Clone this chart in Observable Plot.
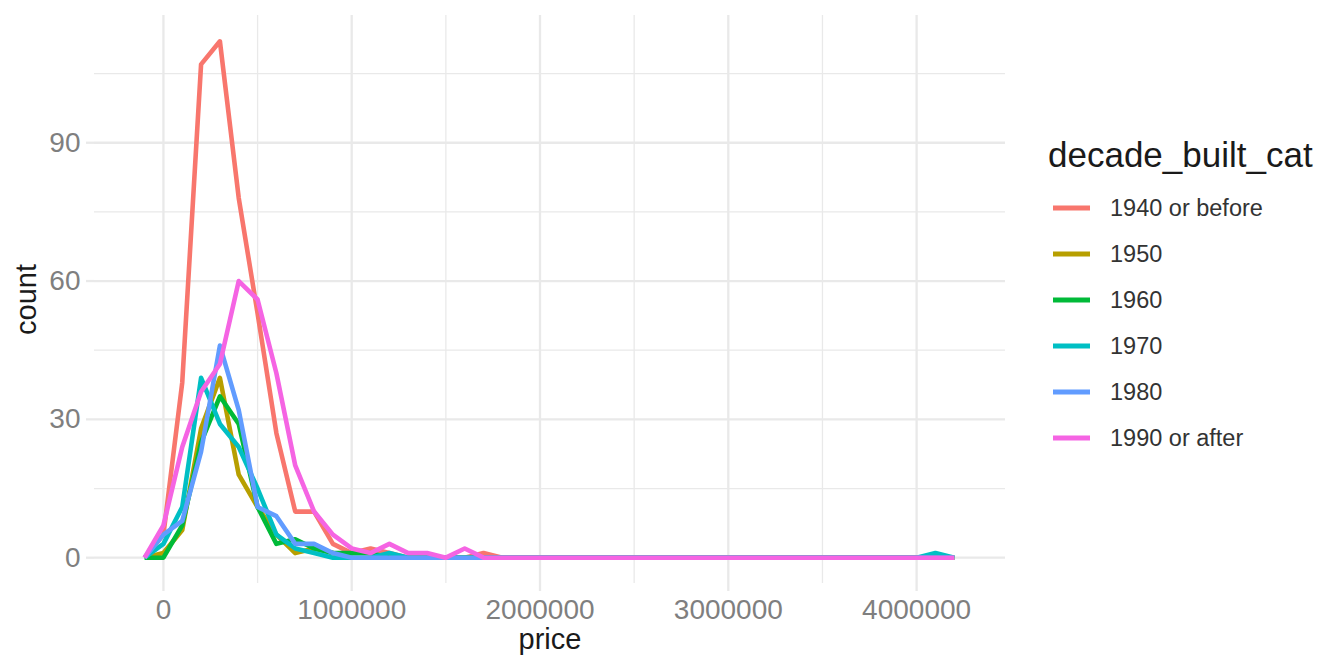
<!DOCTYPE html>
<html>
<head>
<meta charset="utf-8">
<script src="https://cdn.jsdelivr.net/npm/d3@7"></script>
<script src="https://cdn.jsdelivr.net/npm/@observablehq/plot@0.6"></script>
<style>
  body { margin: 0; background: #ffffff; }
  #wrap { width: 1344px; height: 672px; }
</style>
</head>
<body>
<div id="wrap"></div>
<script>
// Bin centres of the frequency polygon (price)
const priceBins = [
  -100000, 0, 100000, 200000, 300000, 400000, 500000, 600000, 700000, 800000, 900000,
  1000000, 1100000, 1200000, 1300000, 1400000, 1500000, 1600000, 1700000, 1800000, 1900000, 2000000,
  2100000, 2200000, 2300000, 2400000, 2500000, 2600000, 2700000, 2800000, 2900000, 3000000, 3100000,
  3200000, 3300000, 3400000, 3500000, 3600000, 3700000, 3800000, 3900000, 4000000, 4100000, 4200000
];

const decades = ["1940 or before", "1950", "1960", "1970", "1980", "1990 or after"];
const colors = ["#F8766D", "#B79F00", "#00BA38", "#00BFC4", "#619CFF", "#F564E3"];

const count1940 = [
  0, 5, 38, 107, 112, 78, 53, 27, 10, 10, 3,
  1, 2, 1, 0, 0, 0, 0, 1, 0, 0, 0,
  0, 0, 0, 0, 0, 0, 0, 0, 0, 0, 0,
  0, 0, 0, 0, 0, 0, 0, 0, 0, 0, 0
];
const count1950 = [
  0, 1, 6, 28, 39, 18, 11, 5, 1, 2, 1,
  0, 0, 0, 0, 0, 0, 0, 0, 0, 0, 0,
  0, 0, 0, 0, 0, 0, 0, 0, 0, 0, 0,
  0, 0, 0, 0, 0, 0, 0, 0, 0, 0, 0
];
const count1960 = [
  0, 0, 7, 25, 35, 29, 11, 3, 4, 2, 1,
  1, 1, 0, 0, 0, 0, 0, 0, 0, 0, 0,
  0, 0, 0, 0, 0, 0, 0, 0, 0, 0, 0,
  0, 0, 0, 0, 0, 0, 0, 0, 0, 0, 0
];
const count1970 = [
  0, 3, 11, 39, 29, 24, 15, 5, 2, 1, 0,
  0, 0, 1, 0, 0, 0, 0, 0, 0, 0, 0,
  0, 0, 0, 0, 0, 0, 0, 0, 0, 0, 0,
  0, 0, 0, 0, 0, 0, 0, 0, 0, 1, 0
];
const count1980 = [
  0, 5, 8, 23, 46, 32, 11, 9, 3, 3, 1,
  0, 0, 0, 0, 0, 0, 0, 0, 0, 0, 0,
  0, 0, 0, 0, 0, 0, 0, 0, 0, 0, 0,
  0, 0, 0, 0, 0, 0, 0, 0, 0, 0, 0
];
const count1990 = [
  0, 7, 24, 36, 42, 60, 56, 40, 20, 10, 5,
  2, 1, 3, 1, 1, 0, 2, 0, 0, 0, 0,
  0, 0, 0, 0, 0, 0, 0, 0, 0, 0, 0,
  0, 0, 0, 0, 0, 0, 0, 0, 0, 0, 0
];
const seriesCounts = [count1940, count1950, count1960, count1970, count1980, count1990];

const xMajor = [0, 1000000, 2000000, 3000000, 4000000];
const xMinor = [500000, 1500000, 2500000, 3500000];
const yMajor = [0, 30, 60, 90];
const yMinor = [15, 45, 75, 105];

const rows = [];
decades.forEach((d, i) => {
  seriesCounts[i].forEach((c, j) => rows.push({decade: d, price: priceBins[j], count: c}));
});

const FONT = '"Liberation Sans", Arial, Helvetica, sans-serif';
const GRID = "#E9E9E9";

const plot = Plot.plot({
  width: 1344,
  height: 672,
  marginLeft: 94,
  marginRight: 339,
  marginTop: 15,
  marginBottom: 89,
  style: {fontFamily: FONT, background: "#ffffff", overflow: "visible"},
  x: {domain: [-366000, 4472000]},
  y: {domain: [-5.6, 117.6]},
  color: {domain: decades, range: colors},
  marks: [
    Plot.ruleX(xMinor, {stroke: GRID, strokeWidth: 1.3}),
    Plot.ruleY(yMinor, {stroke: GRID, strokeWidth: 1.3}),
    Plot.ruleX(xMajor, {stroke: GRID, strokeWidth: 2.3}),
    Plot.ruleY(yMajor, {stroke: GRID, strokeWidth: 2.3}),
    Plot.axisX({ticks: xMajor, tickSize: 8, tickPadding: 8, stroke: GRID, strokeWidth: 2.3,
      fill: "#7F7F7F", fontSize: 28, tickFormat: d => String(d), label: null}),
    Plot.axisY({ticks: yMajor, tickSize: 8, tickPadding: 6, stroke: GRID, strokeWidth: 2.3,
      fill: "#7F7F7F", fontSize: 28, tickFormat: d => String(d), label: null}),
    Plot.line(rows, {x: "price", y: "count", z: "decade", stroke: "decade",
      strokeWidth: 4.6, strokeLinecap: "butt", strokeLinejoin: "round"}),
    Plot.text(["price"], {text: d => d, frameAnchor: "bottom", lineAnchor: "middle", textAnchor: "middle",
      dy: 56, fontSize: 29, fill: "#1A1A1A"}),
    Plot.text(["count"], {text: d => d, frameAnchor: "left", lineAnchor: "middle", textAnchor: "middle",
      rotate: -90, dx: -68, fontSize: 29, fill: "#1A1A1A"})
  ]
});

// Legend (drawn into the same SVG)
const svg = d3.select(plot);
const lg = svg.append("g").attr("font-family", FONT).attr("text-anchor", "start");
lg.append("text").attr("x", 1048).attr("y", 167).attr("font-size", 35).attr("fill", "#1A1A1A")
  .attr("text-anchor", "start").text("decade_built_cat");
decades.forEach((d, i) => {
  const cy = 208 + 46 * i;
  lg.append("line").attr("x1", 1053).attr("x2", 1090).attr("y1", cy).attr("y2", cy)
    .attr("stroke", colors[i]).attr("stroke-width", 5);
  lg.append("text").attr("x", 1110).attr("y", cy).attr("dy", "0.35em")
    .attr("text-anchor", "start").attr("font-size", 23.5).attr("fill", "#333333").text(d);
});

document.getElementById("wrap").appendChild(plot);
</script>
</body>
</html>
